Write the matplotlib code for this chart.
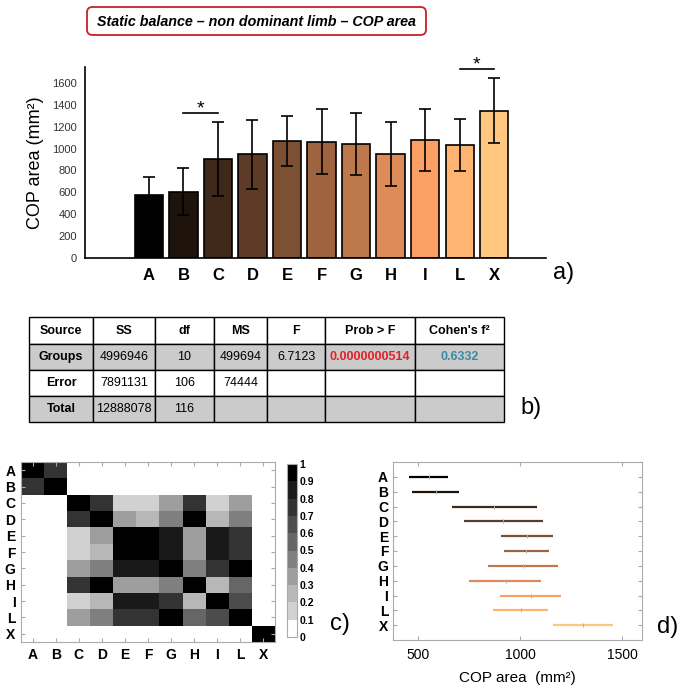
import matplotlib
matplotlib.use('Agg')
import matplotlib.pyplot as plt
import numpy as np
from matplotlib.colors import ListedColormap, BoundaryNorm
from matplotlib.patches import FancyBboxPatch, Rectangle

# ---- data ----
groups = ['A', 'B', 'C', 'D', 'E', 'F', 'G', 'H', 'I', 'L', 'X']
cop_mean = [574, 607, 905, 947, 1069, 1063, 1044, 953, 1081, 1032, 1345]
cop_sd = [170, 215, 340, 313, 225, 297, 282, 292, 282, 240, 297]

sig_pairs = [('B', 'C'), ('L', 'X')]
sig_level = [1327, 1724]

table_header = ['Source', 'SS', 'df', 'MS', 'F', 'Prob > F', "Cohen's f\u00b2"]
table_rows = [
    ['Groups', '4996946', '10', '499694', '6.7123', '0.0000000514', '0.6332'],
    ['Error', '7891131', '106', '74444', '', '', ''],
    ['Total', '12888078', '116', '', '', '', ''],
]

# similarity matrix (panel c)
sim = [
    [.95, .75, 0, 0, 0, 0, 0, 0, 0, 0, 0],
    [.75, .95, 0, 0, 0, 0, 0, 0, 0, 0, 0],
    [0, 0, .95, .75, .15, .15, .35, .75, .15, .35, 0],
    [0, 0, .75, .95, .35, .25, .45, .95, .25, .45, 0],
    [0, 0, .15, .35, .95, .95, .85, .35, .85, .75, 0],
    [0, 0, .15, .25, .95, .95, .85, .35, .85, .75, 0],
    [0, 0, .35, .45, .85, .85, .95, .45, .75, .95, 0],
    [0, 0, .75, .95, .35, .35, .45, .95, .25, .55, 0],
    [0, 0, .15, .25, .85, .85, .75, .25, .95, .65, 0],
    [0, 0, .35, .45, .75, .75, .95, .55, .65, .95, 0],
    [0, 0, 0, 0, 0, 0, 0, 0, 0, 0, .95],
]
cbar_ticks = [0, .1, .2, .3, .4, .5, .6, .7, .8, .9, 1]

# comparison intervals (panel d)
ci_low = [457, 472, 668, 727, 907, 920, 845, 750, 900, 869, 1163]
ci_mid = [555, 588, 874, 918, 1036, 1029, 1016, 930, 1052, 1003, 1308]
ci_high = [649, 702, 1085, 1111, 1162, 1141, 1186, 1103, 1201, 1137, 1454]

plt.rcParams['font.family'] = ['Liberation Sans', 'DejaVu Sans']

W, H = 683, 685
fig = plt.figure(figsize=(W / 100, H / 100), dpi=100)

def px(l, t, r, b):
    return [l / W, 1 - b / H, (r - l) / W, (b - t) / H]

# ---- title ----
box = FancyBboxPatch((87 / W, 1 - 35 / H), (426 - 87) / W, 28 / H,
                     boxstyle='round,pad=0,rounding_size=0.008',
                     transform=fig.transFigure, facecolor='white',
                     edgecolor='#c8202a', linewidth=1.3)
fig.patches.append(box)
fig.text(256 / W, 1 - 21.5 / H, 'Static balance \u2013 non dominant limb \u2013 COP area',
         ha='center', va='center', fontsize=10.3, fontweight='bold', fontstyle='italic')

copper = plt.cm.copper(np.linspace(0, 1, len(groups)))

# ---- a) bar chart ----
ax = fig.add_axes(px(85, 67, 546, 258))
x = np.arange(1, len(groups) + 1)
ax.bar(x, cop_mean, width=0.82, color=copper, edgecolor='black', linewidth=1.2)
ax.errorbar(x, cop_mean, yerr=cop_sd, fmt='none', ecolor='black', elinewidth=1.2,
            capsize=4.5, capthick=1.2)
for (g1, g2), lev in zip(sig_pairs, sig_level):
    x1, x2 = groups.index(g1) + 1, groups.index(g2) + 1
    ax.plot([x1, x2], [lev, lev], color='black', lw=1.2, clip_on=False)
    ax.text((x1 + x2) / 2, lev - 40, '*', ha='center', va='bottom', fontsize=14, clip_on=False)
ax.set_xlim(-0.85, 12.5)
ax.set_ylim(0, 1745)
ax.set_yticks(range(0, 1601, 200))
ax.set_xticks(x)
ax.set_xticklabels(groups, fontsize=12, fontweight='bold')
ax.tick_params(axis='y', length=0, labelsize=8, labelcolor='#333333', pad=6)
ax.tick_params(axis='x', length=0, pad=7)
for s in ['top', 'right']:
    ax.spines[s].set_visible(False)
for s in ['left', 'bottom']:
    ax.spines[s].set_linewidth(1.2)
ax.set_ylabel('COP area (mm\u00b2)', fontsize=13, labelpad=6)
fig.text(553 / W, 1 - 273 / H, 'a)', fontsize=17, va='center')

# ---- b) ANOVA table ----
tb = fig.add_axes(px(29, 317, 504, 422))
col_edges = [29, 93, 155, 214, 267, 325, 415, 504]
row_edges = [317, 344, 370, 396, 422]
tb.set_xlim(col_edges[0], col_edges[-1])
tb.set_ylim(row_edges[-1], row_edges[0])
tb.axis('off')
all_rows = [table_header] + table_rows
for r, row in enumerate(all_rows):
    fc = '#cbcbcb' if r in (1, 3) else 'white'
    for c, txt in enumerate(row):
        tb.add_patch(Rectangle((col_edges[c], row_edges[r]), col_edges[c + 1] - col_edges[c],
                               row_edges[r + 1] - row_edges[r], facecolor=fc,
                               edgecolor='black', linewidth=1, clip_on=False))
        if not txt:
            continue
        color, weight = 'black', 'normal'
        if r == 0 or c == 0:
            weight = 'bold'
        if r == 1 and c == 5:
            color, weight = '#e3202a', 'bold'
        if r == 1 and c == 6:
            color, weight = '#3a8ba3', 'bold'
        tb.text((col_edges[c] + col_edges[c + 1]) / 2, (row_edges[r] + row_edges[r + 1]) / 2,
                txt, ha='center', va='center', fontsize=9, color=color, fontweight=weight)
fig.text(520 / W, 1 - 408 / H, 'b)', fontsize=17, va='center')

# ---- c) similarity map ----
grays = [1.0, 0.82, 0.72, 0.62, 0.5, 0.4, 0.3, 0.2, 0.1, 0.0]
cmap = ListedColormap([(g, g, g) for g in grays])
norm = BoundaryNorm(cbar_ticks, cmap.N)
axc = fig.add_axes(px(21, 462, 275, 642))
im = axc.imshow(np.array(sim), cmap=cmap, norm=norm, aspect='auto', interpolation='nearest')
axc.set_xticks(range(len(groups)))
axc.set_yticks(range(len(groups)))
axc.set_xticklabels(groups, fontsize=10, fontweight='bold')
axc.set_yticklabels(groups, fontsize=10, fontweight='bold')
axc.tick_params(direction='in', top=True, right=True, length=3, color='#aaaaaa', pad=4)
for s in axc.spines.values():
    s.set_color('#aaaaaa')

cax = fig.add_axes(px(287, 464, 297, 637))
cb = fig.colorbar(im, cax=cax, ticks=cbar_ticks)
cb.ax.set_yticklabels([f'{t:g}' for t in cbar_ticks], fontsize=7.5, fontweight='bold')
cb.ax.tick_params(length=0, pad=2)
cb.outline.set_edgecolor('#aaaaaa')
fig.text(330 / W, 1 - 624 / H, 'c)', fontsize=17, va='center')

# ---- d) multiple comparison intervals ----
axd = fig.add_axes(px(393, 462, 642, 640))
for i in range(len(groups)):
    axd.plot([ci_low[i], ci_high[i]], [i + 1, i + 1], color=copper[i], lw=1.6,
             solid_capstyle='butt')
    axd.plot(ci_mid[i], i + 1, marker='|', color='#b0b0b0', ms=3.5, mew=0.7)
axd.set_ylim(12, 0)
axd.set_xlim(377, 1598)
axd.set_yticks(range(1, len(groups) + 1))
axd.set_yticklabels(groups, fontsize=10, fontweight='bold')
axd.set_xticks([500, 1000, 1500])
axd.tick_params(axis='x', labelsize=10, pad=6)
axd.tick_params(direction='in', top=True, right=True, length=3, color='#aaaaaa')
for s in axd.spines.values():
    s.set_color('#aaaaaa')
axd.set_xlabel('COP area  (mm\u00b2)', fontsize=11, labelpad=6)
fig.text(657 / W, 1 - 627 / H, 'd)', fontsize=17, va='center')

fig.savefig('out.png', dpi=100)
